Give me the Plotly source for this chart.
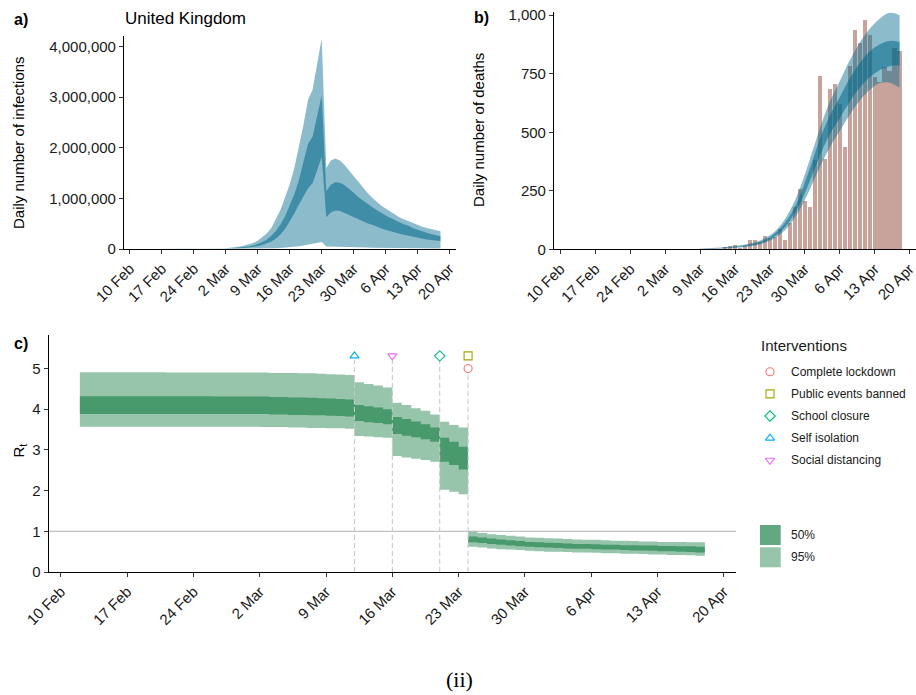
import pandas as pd
import plotly.graph_objects as go

W, H = 916, 695
FONT = "Liberation Sans, Arial, Helvetica, sans-serif"

# ---------------- data ----------------
tick_dates = ["2020-02-10", "2020-02-17", "2020-02-24", "2020-03-02", "2020-03-09", "2020-03-16",
              "2020-03-23", "2020-03-30", "2020-04-06", "2020-04-13", "2020-04-20"]
tick_labels = ["10 Feb", "17 Feb", "24 Feb", "2 Mar", "9 Mar", "16 Mar",
               "23 Mar", "30 Mar", "6 Apr", "13 Apr", "20 Apr"]

# daily model output 12 Feb .. 18 Apr
model_dates = pd.date_range("2020-02-12", "2020-04-18", freq="D")

inf_hi95 = [0, 0, 0, 0, 0, 0, 0, 0, 0, 0, 0, 0,
            1000, 2000, 3000, 4500, 6500, 9000,
            12000, 17000, 25000, 35000, 50000, 68000, 90000, 120000, 165000, 230000,
            310000, 420000, 600000, 780000, 1030000, 1280000, 1600000, 2000000, 2450000, 2950000,
            3150000, 3660000, 4160000,
            1600000, 1750000, 1790000, 1750000, 1660000, 1550000, 1430000, 1320000,
            1210000, 1110000, 1020000, 940000, 860000, 800000, 740000, 690000, 630000, 590000,
            550000, 510000, 470000, 440000, 415000, 390000, 370000, 350000]
inf_hi50 = [0, 0, 0, 0, 0, 0, 0, 0, 0, 0, 0, 0,
            500, 900, 1500, 2200, 3000, 4200,
            6000, 9000, 13000, 18000, 26000, 36000, 50000, 70000, 100000, 140000,
            190000, 260000, 360000, 490000, 650000, 850000, 1080000, 1360000, 1700000, 2080000,
            2220000, 2630000, 3040000,
            1140000, 1270000, 1320000, 1310000, 1260000, 1190000, 1110000, 1030000,
            960000, 890000, 830000, 770000, 710000, 660000, 620000, 570000, 530000, 490000,
            460000, 410000, 380000, 340000, 310000, 290000, 270000, 250000]
inf_lo50 = [0, 0, 0, 0, 0, 0, 0, 0, 0, 0, 0, 0,
            200, 400, 700, 1000, 1500, 2000,
            3000, 5000, 7000, 10000, 14000, 20000, 28000, 40000, 55000, 80000,
            110000, 150000, 210000, 290000, 400000, 540000, 700000, 880000, 1050000, 1200000,
            1300000, 1560000, 1820000,
            630000, 720000, 760000, 750000, 710000, 670000, 620000, 580000,
            540000, 510000, 480000, 440000, 410000, 380000, 350000, 330000, 300000, 280000,
            260000, 240000, 220000, 210000, 190000, 180000, 170000, 160000]
inf_lo95 = [0, 0, 0, 0, 0, 0, 0, 0, 0, 0, 0, 0,
            10, 20, 30, 50, 70, 100,
            150, 200, 300, 400, 600, 800, 1100, 1500, 2500, 4000,
            6000, 9000, 13000, 18000, 25000, 33000, 43000, 55000, 70000, 90000,
            105000, 120000, 140000,
            50000, 46000, 43000, 40000, 38000, 36000, 34000, 32000,
            30000, 28000, 27000, 26000, 25000, 24000, 23000, 22000, 21000, 20000,
            19000, 18000, 17000, 16000, 15000, 14000, 13000, 12000]

# reported deaths 1 Mar .. 18 Apr
death_dates = pd.date_range("2020-03-01", "2020-04-18", freq="D")
deaths = [0, 0, 0, 0, 1, 0, 1, 0, 1, 2, 1, 2, 1, 10, 14, 20, 8, 16, 40, 40,
          33, 56, 48, 54, 87, 41, 115, 181, 260, 209, 180,
          381, 743, 389, 684, 708, 621, 439, 786, 938, 881, 980, 917, 737, 717, 778, 761, 861, 847]

# modelled deaths, every second day 1 Mar .. 18 Apr
dm_dates = pd.date_range("2020-03-01", "2020-04-18", freq="2D")
dm_lo95 = [0.05, 0.1, 0.2, 0.35, 0.8, 1.6, 3, 5, 8, 13, 21, 36, 62, 105, 170, 255,
           350, 435, 505, 575, 635, 680, 710, 712, 690]
dm_lo50 = [0.1, 0.2, 0.35, 0.6, 1.2, 2.4, 4.2, 7, 10.5, 16, 25, 43, 73, 122, 193, 292,
           400, 490, 560, 630, 690, 735, 765, 782, 786]
dm_hi50 = [0.15, 0.3, 0.5, 0.8, 1.7, 3.3, 5.6, 9, 13.5, 20, 31, 52, 88, 143, 228, 345,
           470, 570, 650, 730, 795, 845, 875, 890, 886]
dm_hi95 = [0.25, 0.5, 0.8, 1.2, 2.6, 4.8, 7.5, 11.5, 17, 25, 38, 60, 100, 165, 260, 385,
           515, 630, 718, 808, 882, 942, 985, 1010, 1000]

# reproduction number, daily 12 Feb .. 18 Apr
rt_hi95 = [4.91, 4.91, 4.91, 4.91, 4.91, 4.91, 4.91, 4.91, 4.91, 4.90, 4.90, 4.90, 4.90, 4.90, 4.90, 4.90, 4.90, 4.90,
           4.90, 4.90, 4.89, 4.89, 4.89, 4.88, 4.88, 4.87, 4.86, 4.85, 4.84,
           4.66, 4.62, 4.58, 4.53,
           4.16, 4.10, 4.02, 3.96, 3.87,
           3.69, 3.61, 3.55,
           0.99, 0.96, 0.93, 0.91, 0.89, 0.87, 0.85, 0.84,
           0.83, 0.82, 0.81, 0.80, 0.79, 0.79, 0.78, 0.77, 0.77, 0.76, 0.75, 0.75, 0.74, 0.74, 0.74, 0.73, 0.73, 0.73]
rt_hi50 = [4.32, 4.32, 4.32, 4.32, 4.32, 4.32, 4.32, 4.32, 4.32, 4.32, 4.32, 4.32, 4.32, 4.32, 4.31, 4.31, 4.31, 4.31,
           4.31, 4.31, 4.30, 4.30, 4.29, 4.29, 4.28, 4.27, 4.26, 4.25, 4.24,
           4.10, 4.07, 4.04, 4.00,
           3.81, 3.76, 3.70, 3.63, 3.55,
           3.30, 3.20, 3.08,
           0.87, 0.85, 0.82, 0.80, 0.78, 0.76, 0.74, 0.73,
           0.72, 0.71, 0.70, 0.69, 0.69, 0.68, 0.67, 0.67, 0.66, 0.66, 0.65, 0.65, 0.64, 0.64, 0.63, 0.63, 0.62, 0.62]
rt_lo50 = [3.88, 3.88, 3.88, 3.88, 3.88, 3.88, 3.88, 3.88, 3.88, 3.88, 3.88, 3.88, 3.88, 3.88, 3.88, 3.88, 3.88, 3.88,
           3.88, 3.88, 3.87, 3.87, 3.86, 3.86, 3.85, 3.85, 3.84, 3.83, 3.82,
           3.71, 3.68, 3.66, 3.63,
           3.39, 3.35, 3.31, 3.26, 3.20,
           2.71, 2.63, 2.52,
           0.73, 0.71, 0.69, 0.67, 0.65, 0.63, 0.62, 0.61,
           0.60, 0.59, 0.58, 0.57, 0.57, 0.56, 0.55, 0.55, 0.54, 0.53, 0.53, 0.52, 0.51, 0.51, 0.50, 0.49, 0.48, 0.48]
rt_lo95 = [3.57, 3.57, 3.57, 3.57, 3.57, 3.57, 3.57, 3.57, 3.57, 3.57, 3.57, 3.57, 3.57, 3.57, 3.57, 3.57, 3.57, 3.57,
           3.57, 3.56, 3.56, 3.56, 3.55, 3.55, 3.54, 3.54, 3.53, 3.53, 3.52,
           3.34, 3.33, 3.31, 3.30,
           2.85, 2.81, 2.78, 2.75, 2.71,
           2.02, 1.97, 1.91,
           0.62, 0.60, 0.58, 0.56, 0.55, 0.54, 0.52, 0.51,
           0.50, 0.50, 0.49, 0.48, 0.48, 0.47, 0.46, 0.46, 0.45, 0.45, 0.44, 0.43, 0.43, 0.42, 0.42, 0.41, 0.40, 0.40]

interventions = ["Complete lockdown", "Public events banned", "School closure", "Self isolation", "Social distancing"]
intervention_dates = ["2020-03-24", "2020-03-24", "2020-03-21", "2020-03-12", "2020-03-16"]

for arr in (inf_hi95, inf_hi50, inf_lo50, inf_lo95, rt_hi95, rt_hi50, rt_lo50, rt_lo95):
    assert len(arr) == len(model_dates), len(arr)
assert len(deaths) == len(death_dates)
for arr in (dm_lo95, dm_lo50, dm_hi50, dm_hi95):
    assert len(arr) == len(dm_dates)

# ---------------- styles ----------------
BLUE95 = "rgba(0,104,139,0.45)"
BLUE50 = "rgba(0,104,139,0.55)"
GREEN95 = "rgba(46,139,87,0.5)"
GREEN50 = "rgba(46,139,87,0.75)"
BAR = "rgba(139,62,47,0.48)"
INT_STYLE = {
    "Complete lockdown": ("circle-open", "#F8766D"),
    "Public events banned": ("square-open", "#A3A500"),
    "School closure": ("diamond-open", "#00BF7D"),
    "Self isolation": ("triangle-up-open", "#00B0F6"),
    "Social distancing": ("triangle-down-open", "#E76BF3"),
}
XR = ["2020-02-08 17:00", "2020-04-21 07:00"]


def px(x):
    return x / W


def py(y):
    return 1 - y / H


def xaxis_cfg(l, r, anchor):
    return dict(domain=[px(l), px(r)], anchor=anchor, type="date", range=XR, automargin=False,
                tickmode="array", tickvals=tick_dates, ticktext=tick_labels, tickangle=-45,
                ticklabeloverflow="allow",
                ticks="outside", ticklen=4, tickwidth=1, tickcolor="#333333",
                showline=True, linecolor="black", linewidth=1.1,
                showgrid=False, zeroline=False, fixedrange=True,
                tickfont=dict(family=FONT, size=15, color="#1a1a1a"))


def yaxis_cfg(top, bottom, anchor, rng, vals, fmt=None):
    d = dict(domain=[py(bottom), py(top)], anchor=anchor, range=rng, automargin=False,
             tickmode="array", tickvals=vals, ticklabeloverflow="allow",
             ticks="outside", ticklen=4, tickwidth=1, tickcolor="#333333",
             showline=True, linecolor="black", linewidth=1.1,
             showgrid=False, zeroline=False, fixedrange=True,
             tickfont=dict(family=FONT, size=15, color="#1a1a1a"))
    if fmt:
        d["tickformat"] = fmt
    return d


def band(fig, x, lo, hi, color, xa, ya, shape="linear"):
    fig.add_trace(go.Scatter(x=x, y=lo, mode="lines", line=dict(width=0, shape=shape),
                             xaxis=xa, yaxis=ya, hoverinfo="skip", showlegend=False))
    fig.add_trace(go.Scatter(x=x, y=hi, mode="lines", line=dict(width=0, shape=shape),
                             fill="tonexty", fillcolor=color,
                             xaxis=xa, yaxis=ya, hoverinfo="skip", showlegend=False))


fig = go.Figure()

# ---- panel a: infections ----
band(fig, model_dates, inf_lo95, inf_hi95, BLUE95, "x", "y")
band(fig, model_dates, inf_lo50, inf_hi50, BLUE50, "x", "y")

# ---- panel b: deaths ----
fig.add_trace(go.Bar(x=death_dates, y=deaths, marker=dict(color=BAR, line=dict(width=0)),
                     width=0.86 * 86400000, xaxis="x2", yaxis="y2", hoverinfo="skip", showlegend=False))
band(fig, dm_dates, dm_lo95, dm_hi95, BLUE95, "x2", "y2", shape="spline")
band(fig, dm_dates, dm_lo50, dm_hi50, BLUE50, "x2", "y2", shape="spline")

# ---- panel c: Rt ----
band(fig, model_dates, rt_lo95, rt_hi95, GREEN95, "x3", "y3", shape="hv")
band(fig, model_dates, rt_lo50, rt_hi50, GREEN50, "x3", "y3", shape="hv")

# intervention markers: stacked when several share a date
MARK_TOP, MARK_STEP = 5.31, 0.31
marker_y = {}
levels = {}
for name, d in reversed(list(zip(interventions, intervention_dates))):
    k = levels.get(d, 0)
    marker_y[name] = MARK_TOP - k * MARK_STEP
    levels[d] = k + 1

for d in sorted(set(intervention_dates)):
    top = min(marker_y[n] for n, dd in zip(interventions, intervention_dates) if dd == d) - 0.1
    fig.add_trace(go.Scatter(x=[d, d], y=[0, top], mode="lines",
                             line=dict(color="#c8c8c8", width=1.1, dash="5px,3px"),
                             xaxis="x3", yaxis="y3", hoverinfo="skip", showlegend=False))

for name, d in zip(interventions, intervention_dates):
    sym, col = INT_STYLE[name]
    fig.add_trace(go.Scatter(x=[d], y=[marker_y[name]], mode="markers",
                             marker=dict(symbol=sym, size=8, color=col, line=dict(color=col, width=1.1)),
                             xaxis="x3", yaxis="y3", hoverinfo="skip", showlegend=False))

# ---- legend: small overlay axis in pixel units over the legend area only ----
LX0, LX1, LY0, LY1 = 745, 916, 330, 480
LEG_X, LEG_TEXT_X, LEG_Y0, LEG_DY = 770, 789, 371.7, 22.15
for i, name in enumerate(interventions):
    sym, col = INT_STYLE[name]
    fig.add_trace(go.Scatter(x=[LEG_X], y=[LEG_Y0 + i * LEG_DY], mode="markers",
                             marker=dict(symbol=sym, size=8, color=col, line=dict(color=col, width=1.1)),
                             xaxis="x4", yaxis="y4", hoverinfo="skip", showlegend=False, cliponaxis=False))

annotations = []


def ann(x, y, text, size=15, angle=0, bold=False, xanchor="center", family=FONT, color="#000000"):
    annotations.append(dict(x=px(x), y=py(y), xref="paper", yref="paper",
                            text=("<b>%s</b>" % text) if bold else text,
                            showarrow=False, xanchor=xanchor, yanchor="middle", textangle=angle,
                            font=dict(family=family, size=size, color=color)))


for i, name in enumerate(interventions):
    ann(LEG_TEXT_X, LEG_Y0 + i * LEG_DY, name, size=12, xanchor="left", color="#1a1a1a")
ann(759, 346, "Interventions", size=15, xanchor="left", color="#1a1a1a")

shapes = []
for label, color, y0 in (("50%", GREEN50, 525), ("95%", GREEN95, 547.3)):
    shapes.append(dict(type="rect", xref="paper", yref="paper", x0=px(760), x1=px(780.7),
                       y0=py(y0 + 20), y1=py(y0), fillcolor=color, line=dict(width=0)))
    ann(LEG_TEXT_X, y0 + 10, label, size=12, xanchor="left", color="#1a1a1a")

# reference line Rt = 1
shapes.append(dict(type="line", xref="x3 domain", yref="y3", x0=0, x1=1, y0=1, y1=1,
                   line=dict(color="#b3b3b3", width=1), layer="below"))

ann(12, 19, "a)", size=16, bold=True, xanchor="left")
ann(472, 17, "b)", size=16, bold=True, xanchor="left")
ann(12, 343, "c)", size=16, bold=True, xanchor="left")
ann(123, 18.5, "United Kingdom", size=17, xanchor="left")
ann(18.5, 142.5, "Daily number of infections", angle=-90)
ann(479, 130, "Daily number of deaths", angle=-90)
ann(18.5, 451, "R<sub>t</sub>", angle=-90)
ann(460, 679, "(ii)", size=22, family="Liberation Serif, Times New Roman, serif")

fig.update_layout(
    width=W, height=H, autosize=False,
    margin=dict(l=0, r=0, t=0, b=0, autoexpand=False),
    paper_bgcolor="white", plot_bgcolor="rgba(0,0,0,0)",
    showlegend=False,
    bargap=0,
    xaxis=xaxis_cfg(124, 455.5, "y"),
    yaxis=yaxis_cfg(36, 249, "x", [0, 4210000], [0, 1000000, 2000000, 3000000, 4000000], ",d"),
    xaxis2=xaxis_cfg(554, 916, "y2"),
    yaxis2=yaxis_cfg(11.7, 249.3, "x2", [0, 1015], [0, 250, 500, 750, 1000], ",d"),
    xaxis3=xaxis_cfg(48.7, 736, "y3"),
    yaxis3=yaxis_cfg(334.7, 572, "x3", [0, 5.83], [0, 1, 2, 3, 4, 5]),
    xaxis4=dict(domain=[px(LX0), px(LX1)], range=[LX0, LX1], visible=False, fixedrange=True, anchor="y4"),
    yaxis4=dict(domain=[py(LY1), py(LY0)], range=[LY1, LY0], visible=False, fixedrange=True, anchor="x4"),
    annotations=annotations,
    shapes=shapes,
    font=dict(family=FONT),
)

fig.write_html("out.html")
